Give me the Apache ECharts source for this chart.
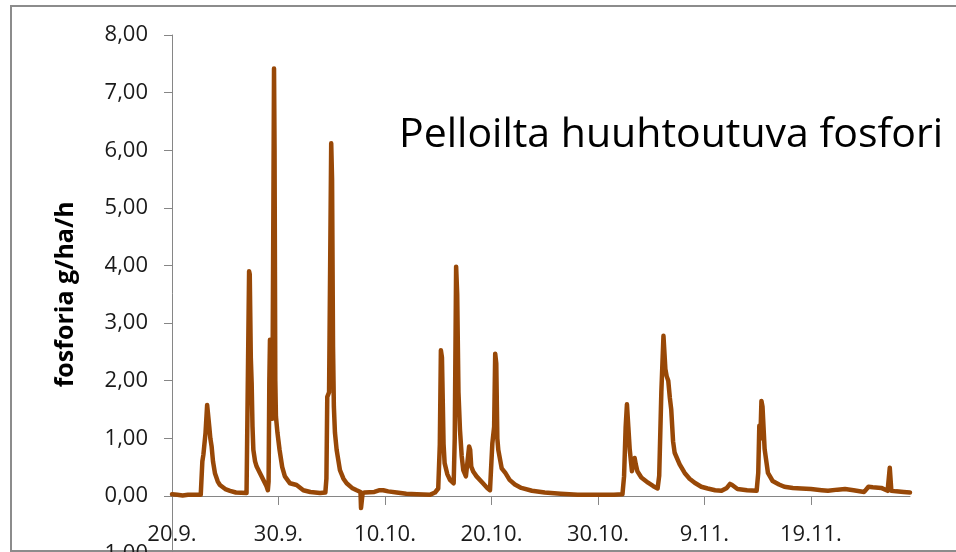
<!DOCTYPE html>
<html>
<head>
<meta charset="utf-8">
<title>Pelloilta huuhtoutuva fosfori</title>
<script src="https://cdn.jsdelivr.net/npm/echarts@6/dist/echarts.min.js"></script>
<style>
  html, body { margin: 0; padding: 0; background: #fff; }
  #chart { width: 956px; height: 552px; }
</style>
</head>
<body>
<div id="chart"></div>
<script>
// päiviä 20.9. alkaen
var dayPoints = [
  0, 0.5, 1.0, 1.5, 2.0, 2.7, 2.85, 2.95, 3.15, 3.3, 3.4, 3.5, 3.6, 3.72, 3.85, 4.04, 4.3, 4.5, 5.0, 5.45, 6.0, 7.0,
  7.18, 7.24, 7.3, 7.4, 7.48, 7.56, 7.64, 7.8, 7.95, 8.3, 8.57, 8.85, 9.0,
  9.07, 9.14, 9.2, 9.3, 9.42, 9.52, 9.58, 9.63, 9.7, 9.76, 9.9, 10.1, 10.35, 10.6, 11.08, 11.7, 12.33, 13.0, 13.9, 14.4,
  14.5, 14.58, 14.75, 14.95, 15.03, 15.12, 15.2, 15.3, 15.46, 15.77, 16.1, 16.4, 16.9, 17.34, 17.7,
  17.75, 17.85, 17.9, 18.1, 19.0, 19.5, 19.84, 20.3, 21.1, 22.0, 23.0, 24.2, 24.7, 25.0,
  25.15, 25.25, 25.35, 25.5, 25.6, 25.85, 26.1, 26.45, 26.55, 26.68, 26.78, 26.9, 27.04, 27.2, 27.35, 27.6,
  27.75, 27.9, 28.0, 28.1, 28.3, 28.6, 29.2, 29.6, 29.86, 30.0,
  30.08, 30.25, 30.35, 30.45, 30.55, 30.64, 30.96, 31.1, 31.3, 31.7, 32.2, 32.8, 33.8, 35.0, 36.5, 38.1, 40.0, 41.5, 42.3,
  42.45, 42.6, 42.72, 42.85, 42.98, 43.19, 43.3, 43.44, 43.55, 43.7, 44.07, 44.7, 45.2, 45.6,
  45.75, 45.95, 46.15, 46.25, 46.33, 46.45, 46.6, 46.75, 46.88, 47.05, 47.2, 47.67, 48.14, 48.6, 49.08, 49.7, 50.3,
  51.0, 51.6, 52.1, 52.4, 52.6, 53.1, 54.0, 54.9,
  55.05, 55.15, 55.25, 55.35, 55.45, 55.65, 55.96, 56.4, 57.0, 57.5, 58.3, 59.1, 60.0, 61.0, 61.6, 62.5, 63.2, 64.0,
  65.0, 65.4, 65.8, 66.6, 67.2, 67.35, 67.4, 67.5, 67.55, 68.0, 68.7, 69.3
];
// fosforia g/ha/h
var phosphorus = [
  0.03, 0.02, 0.01, 0.02, 0.02, 0.02, 0.6, 0.72, 1.1, 1.58, 1.55, 1.2, 1.0, 0.86, 0.6, 0.39, 0.25, 0.19, 0.12, 0.09, 0.06, 0.05,
  0.06, 3.9, 3.85, 2.4, 1.96, 1.2, 0.8, 0.6, 0.51, 0.38, 0.28, 0.18, 0.1,
  0.25, 2.0, 2.71, 2.0, 1.34, 5.0, 7.42, 6.0, 2.0, 1.38, 1.1, 0.8, 0.5, 0.34, 0.22, 0.19, 0.1, 0.07, 0.05, 0.06,
  0.3, 1.72, 1.8, 6.12, 5.5, 2.6, 1.55, 1.1, 0.8, 0.45, 0.3, 0.22, 0.14, 0.1, 0.07,
  -0.21, -0.21, 0.05, 0.06, 0.07, 0.1, 0.1, 0.08, 0.06, 0.04, 0.03, 0.02, 0.06, 0.13,
  0.9, 2.53, 2.4, 0.9, 0.57, 0.38, 0.28, 0.22, 1.0, 3.98, 3.5, 1.8, 1.15, 0.7, 0.45, 0.34,
  0.6, 0.86, 0.8, 0.51, 0.42, 0.34, 0.22, 0.14, 0.1, 0.12,
  0.91, 1.2, 2.47, 2.3, 1.0, 0.8, 0.48, 0.46, 0.4, 0.28, 0.2, 0.14, 0.09, 0.06, 0.04, 0.02, 0.02, 0.02, 0.03,
  0.34, 1.2, 1.59, 1.2, 0.81, 0.43, 0.55, 0.66, 0.55, 0.43, 0.32, 0.23, 0.17, 0.13,
  0.35, 1.8, 2.78, 2.81, 2.2, 2.08, 2.0, 1.7, 1.5, 0.95, 0.75, 0.55, 0.4, 0.3, 0.23, 0.16, 0.13,
  0.1, 0.09, 0.14, 0.21, 0.19, 0.12, 0.1, 0.09,
  0.4, 1.22, 1.0, 1.65, 1.55, 0.81, 0.4, 0.26, 0.2, 0.16, 0.14, 0.13, 0.12, 0.1, 0.09, 0.11, 0.12, 0.1,
  0.07, 0.16, 0.15, 0.14, 0.09, 0.1, 0.49, 0.48, 0.09, 0.08, 0.07, 0.06
];
var xTickDays = [0, 10, 20, 30, 40, 50, 60];
var xTickLabels = ['20.9.', '30.9.', '10.10.', '20.10.', '30.10.', '9.11.', '19.11.'];
var yTicks = [-1, 0, 1, 2, 3, 4, 5, 6, 7, 8];

var seriesData = dayPoints.map(function (d, i) { return [d, phosphorus[i]]; });

// akselin paikka: y-alue -1..8, x-akseli nollan kohdalle
var gridTop = 35, gridHeight = 518.6;
var zeroOffset = -gridHeight * (0 - yTicks[0]) / (yTicks[yTicks.length - 1] - yTicks[0]);

var chart = echarts.init(document.getElementById('chart'));

var option = {
  animation: false,
  backgroundColor: '#fff',
  title: {
    text: 'Pelloilta huuhtoutuva fosfori',
    left: 394,
    top: 110,
    textStyle: { fontFamily: 'Open Sans', fontSize: 41, fontWeight: 'normal', color: '#000' }
  },
  graphic: [{
    type: 'rect',
    shape: { x: 11, y: 6, width: 1000, height: 545 },
    style: { fill: 'none', stroke: '#8c8c8c', lineWidth: 2 },
    silent: true
  }],
  grid: { left: 172, right: 46, top: gridTop, height: gridHeight, containLabel: false, outerBoundsMode: 'none' },
  xAxis: {
    type: 'value',
    min: 0,
    max: 69.3,
    offset: zeroOffset,
    axisLine: { onZero: false, lineStyle: { color: '#868686', width: 1 } },
    axisTick: { show: true, length: 9, customValues: xTickDays, lineStyle: { color: '#868686' } },
    axisLabel: {
      customValues: xTickDays,
      margin: 28,
      fontFamily: 'Open Sans',
      fontSize: 22,
      color: '#1a1a1a',
      formatter: function (v) {
        var i = xTickDays.indexOf(Math.round(v));
        return i >= 0 ? xTickLabels[i] : '';
      }
    },
    splitLine: { show: false }
  },
  yAxis: {
    type: 'value',
    min: yTicks[0],
    max: yTicks[yTicks.length - 1],
    interval: 1,
    name: 'fosforia g/ha/h',
    nameLocation: 'middle',
    nameGap: 94,
    nameTextStyle: { fontFamily: 'Open Sans', fontSize: 25, fontWeight: 'bold', color: '#000' },
    axisLine: { show: true, lineStyle: { color: '#868686', width: 1 } },
    axisTick: { show: true, length: 8, lineStyle: { color: '#868686' } },
    axisLabel: {
      margin: 24,
      fontFamily: 'Open Sans',
      fontSize: 22,
      color: '#1a1a1a',
      formatter: function (v) { return v.toFixed(2).replace('.', ','); }
    },
    splitLine: { show: false }
  },
  series: [{
    type: 'line',
    data: seriesData,
    showSymbol: false,
    clip: false,
    lineStyle: { color: '#984807', width: 4.5, join: 'round', cap: 'round' },
    itemStyle: { color: '#984807' }
  }]
};

chart.setOption(option);
</script>
</body>
</html>
